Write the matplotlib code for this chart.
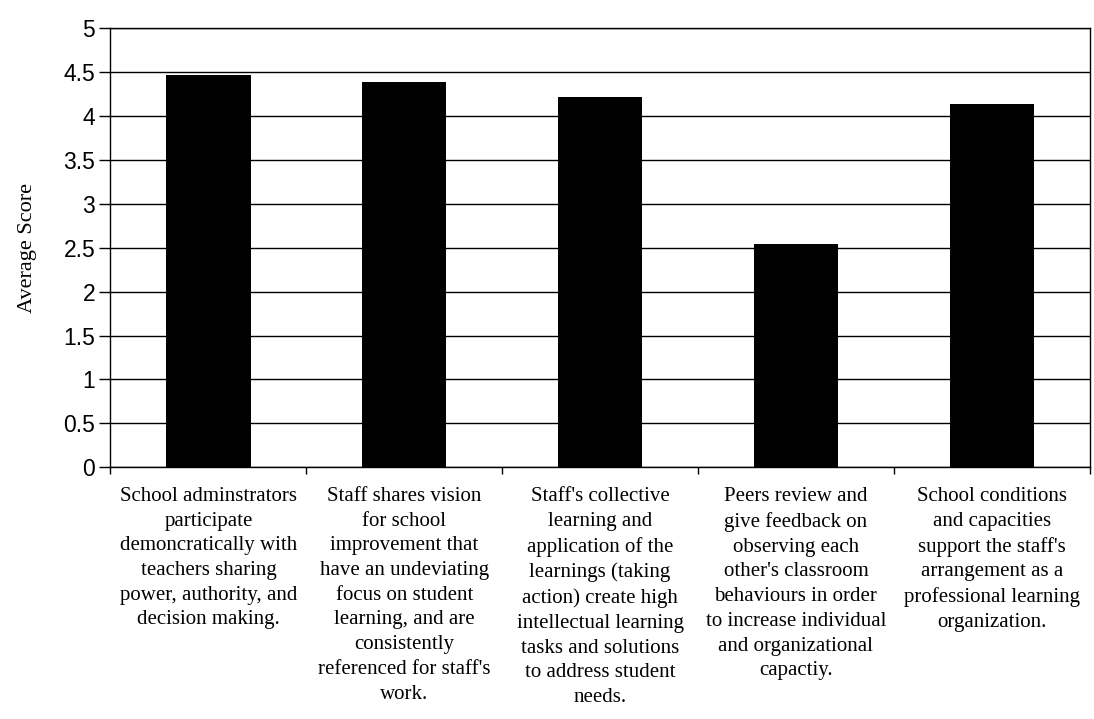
import matplotlib.pyplot as plt
import numpy as np

# values
categories = [
    "School adminstrators\nparticipate\ndemoncratically with\nteachers sharing\npower, authority, and\ndecision making.",
    "Staff shares vision\nfor school\nimprovement that\nhave an undeviating\nfocus on student\nlearning, and are\nconsistently\nreferenced for staff's\nwork.",
    "Staff's collective\nlearning and\napplication of the\nlearnings (taking\naction) create high\nintellectual learning\ntasks and solutions\nto address student\nneeds.",
    "Peers review and\ngive feedback on\nobserving each\nother's classroom\nbehaviours in order\nto increase individual\nand organizational\ncapactiy.",
    "School conditions\nand capacities\nsupport the staff's\narrangement as a\nprofessional learning\norganization.",
]
scores = [4.46, 4.39, 4.21, 2.54, 4.13]
yticks = [0, 0.5, 1, 1.5, 2, 2.5, 3, 3.5, 4, 4.5, 5]

fig = plt.figure(figsize=(10.94, 7.19), dpi=100)
ax = fig.add_axes([0.101, 0.350, 0.895, 0.611])

x = np.arange(len(categories))
ax.bar(x, scores, width=0.43, color='black', zorder=3)

ax.set_xlim(-0.5, len(categories) - 0.5)
ax.set_ylim(0, 5)
ax.set_yticks(yticks)
ax.set_yticklabels([f"{v:g}" for v in yticks], fontsize=16.5, family='Liberation Sans')
ax.yaxis.grid(True, color='black', linewidth=1.0, zorder=0)

# labels under each category, ticks at the category borders
ax.set_xticks(x)
ax.set_xticklabels(categories, fontsize=15, family='Liberation Serif', linespacing=1.41, va='top')
ax.tick_params(axis='x', which='major', length=0, pad=14)
ax.set_xticks(np.arange(len(categories) + 1) - 0.5, minor=True)
ax.tick_params(axis='x', which='minor', length=5, direction='out', width=1)
ax.tick_params(axis='y', length=8, width=1, direction='out', pad=3)

for s in ax.spines.values():
    s.set_color('black')
    s.set_linewidth(1.0)

ax.set_ylabel("Average Score", fontsize=16, family='Liberation Serif', labelpad=19)

fig.savefig("out.png", dpi=100)
